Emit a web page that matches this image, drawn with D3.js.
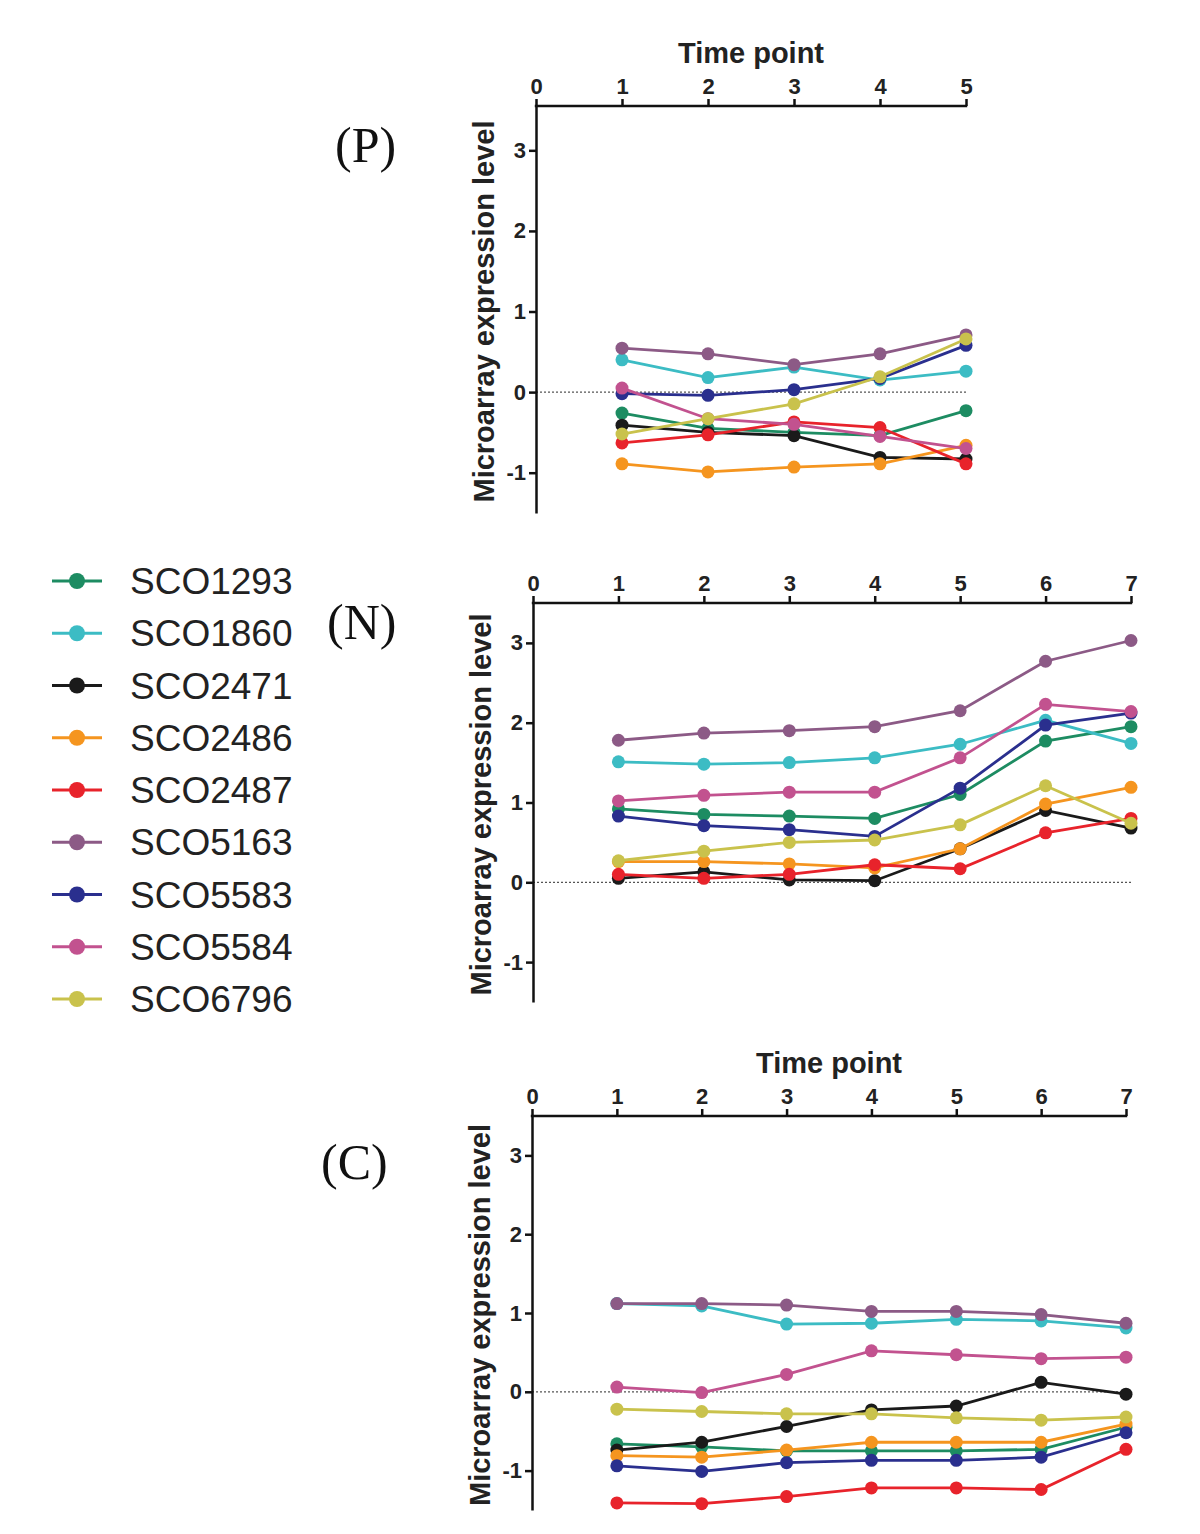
<!DOCTYPE html>
<html>
<head>
<meta charset="utf-8">
<script src="https://cdn.jsdelivr.net/npm/d3@7"></script>
<style>
  html, body { margin: 0; padding: 0; background: #fff; }
  svg { display: block; }
  .axis path, .axis line { stroke: #111; stroke-width: 2.5px; }
  .axis text { font-family: "Liberation Sans", Arial, sans-serif; font-weight: bold; font-size: 22px; fill: #222; }
</style>
</head>
<body>
<svg id="chart" width="1200" height="1534"></svg>
<script>
// ---------- data ----------
const genes = ["SCO1293","SCO1860","SCO2471","SCO2486","SCO2487","SCO5163","SCO5583","SCO5584","SCO6796"];
const colors = ["#1d8c62","#3cbcc4","#1a1a1a","#f5951f","#e8232b","#8c5a86","#2a2f8e","#c2528f","#c9c24c"];

const timeP = [1,2,3,4,5];
const timeN = [1,2,3,4,5,6,7];
const timeC = [1,2,3,4,5,6,7];

const yTicks = [-1,0,1,2,3];
const xTicksP = [0,1,2,3,4,5];
const xTicksN = [0,1,2,3,4,5,6,7];
const xTicksC = [0,1,2,3,4,5,6,7];

// Panel P values (per gene, in gene order)
const P_SCO1293 = [-0.26,-0.45,-0.50,-0.54,-0.23];
const P_SCO1860 = [0.40,0.18,0.31,0.15,0.26];
const P_SCO2471 = [-0.41,-0.50,-0.54,-0.81,-0.83];
const P_SCO2486 = [-0.89,-0.99,-0.93,-0.89,-0.66];
const P_SCO2487 = [-0.63,-0.53,-0.37,-0.44,-0.89];
const P_SCO5163 = [0.545,0.475,0.34,0.475,0.71];
const P_SCO5583 = [-0.02,-0.04,0.03,0.17,0.58];
const P_SCO5584 = [0.05,-0.33,-0.40,-0.55,-0.70];
const P_SCO6796 = [-0.52,-0.33,-0.145,0.19,0.66];

// Panel N values
const N_SCO1293 = [0.92,0.85,0.83,0.80,1.10,1.77,1.95];
const N_SCO1860 = [1.51,1.48,1.50,1.56,1.73,2.03,1.74];
const N_SCO2471 = [0.05,0.13,0.03,0.02,0.42,0.90,0.68];
const N_SCO2486 = [0.26,0.26,0.23,0.18,0.42,0.98,1.19];
const N_SCO2487 = [0.10,0.05,0.10,0.22,0.17,0.62,0.80];
const N_SCO5163 = [1.78,1.87,1.90,1.95,2.15,2.77,3.03];
const N_SCO5583 = [0.83,0.71,0.66,0.575,1.18,1.97,2.12];
const N_SCO5584 = [1.02,1.09,1.13,1.13,1.56,2.23,2.14];
const N_SCO6796 = [0.27,0.39,0.50,0.53,0.72,1.21,0.74];

// Panel C values
const C_SCO1293 = [-0.66,-0.70,-0.75,-0.75,-0.75,-0.73,-0.45];
const C_SCO1860 = [1.12,1.09,0.86,0.87,0.92,0.90,0.81];
const C_SCO2471 = [-0.74,-0.64,-0.44,-0.23,-0.18,0.12,-0.03];
const C_SCO2486 = [-0.81,-0.83,-0.74,-0.64,-0.64,-0.64,-0.41];
const C_SCO2487 = [-1.41,-1.42,-1.33,-1.22,-1.22,-1.24,-0.73];
const C_SCO5163 = [1.12,1.12,1.10,1.02,1.02,0.98,0.87];
const C_SCO5583 = [-0.94,-1.01,-0.90,-0.87,-0.87,-0.83,-0.52];
const C_SCO5584 = [0.06,-0.01,0.22,0.52,0.47,0.42,0.44];
const C_SCO6796 = [-0.22,-0.25,-0.28,-0.28,-0.33,-0.36,-0.32];

const seriesP = [P_SCO1293,P_SCO1860,P_SCO2471,P_SCO2486,P_SCO2487,P_SCO5163,P_SCO5583,P_SCO5584,P_SCO6796];
const seriesN = [N_SCO1293,N_SCO1860,N_SCO2471,N_SCO2486,N_SCO2487,N_SCO5163,N_SCO5583,N_SCO5584,N_SCO6796];
const seriesC = [C_SCO1293,C_SCO1860,C_SCO2471,C_SCO2486,C_SCO2487,C_SCO5163,C_SCO5583,C_SCO5584,C_SCO6796];

// ---------- drawing ----------
const svg = d3.select("#chart");
const fmt = d => String(d);

function panel(cfg) {
  const x = d3.scaleLinear().domain(cfg.xDomain).range([cfg.x0, cfg.x1]);
  const y = d3.scaleLinear().domain(cfg.yDomain).range([cfg.yBottom, cfg.yTop]);
  const g = svg.append("g");

  // zero reference line (dotted)
  g.append("line")
    .attr("x1", x(cfg.xDomain[0])).attr("x2", x(cfg.xDomain[1]))
    .attr("y1", y(0)).attr("y2", y(0))
    .attr("stroke", "#555").attr("stroke-width", 1.2)
    .attr("stroke-dasharray", "2,2");

  // x axis on top
  const xa = g.append("g").attr("class", "axis")
    .attr("transform", `translate(0,${cfg.yTop})`)
    .call(d3.axisTop(x).tickValues(cfg.xTicks).tickFormat(fmt).tickSize(7).tickSizeOuter(0).tickPadding(5));
  xa.select(".domain").attr("d", `M${cfg.x0 - 1.2},0H${cfg.x1 + 1.2}`);

  // y axis on left
  g.append("g").attr("class", "axis")
    .attr("transform", `translate(${cfg.x0},0)`)
    .call(d3.axisLeft(y).tickValues(yTicks).tickFormat(fmt).tickSize(7).tickSizeOuter(0).tickPadding(3));

  // y title
  g.append("text")
    .attr("transform", `translate(${cfg.x0 - 42},${(cfg.yTop + cfg.yBottom) / 2 + 2}) rotate(-90)`)
    .attr("text-anchor", "middle")
    .attr("font-family", "Liberation Sans, Arial, sans-serif")
    .attr("font-weight", "bold").attr("font-size", 29).attr("fill", "#222")
    .text("Microarray expression level");

  if (cfg.xTitle) {
    g.append("text")
      .attr("x", (cfg.x0 + cfg.x1) / 2).attr("y", cfg.yTop - 43)
      .attr("text-anchor", "middle")
      .attr("font-family", "Liberation Sans, Arial, sans-serif")
      .attr("font-weight", "bold").attr("font-size", 29).attr("fill", "#222")
      .text(cfg.xTitle);
  }

  // panel label
  g.append("text")
    .attr("x", cfg.labelX).attr("y", cfg.labelY)
    .attr("font-family", "Liberation Serif, Times New Roman, serif")
    .attr("font-size", 50).attr("fill", "#111")
    .text(cfg.label);

  const line = d3.line().x(d => x(d[0])).y(d => y(d[1]));
  cfg.series.forEach((vals, i) => {
    const pts = cfg.times.map((t, j) => [t, vals[j]]);
    g.append("path").datum(pts)
      .attr("fill", "none").attr("stroke", colors[i]).attr("stroke-width", 2.8)
      .attr("d", line);
    g.selectAll(null).data(pts).enter().append("circle")
      .attr("cx", d => x(d[0])).attr("cy", d => y(d[1])).attr("r", 6.5)
      .attr("fill", colors[i]);
  });
}

panel({ label: "(P)", labelX: 335, labelY: 162, xTitle: "Time point",
  xDomain: [0,5], xTicks: xTicksP, x0: 536, x1: 966,
  yDomain: [-1.5, 3.55], yTop: 106, yBottom: 513,
  times: timeP, series: seriesP });

panel({ label: "(N)", labelX: 327, labelY: 639, xTitle: null,
  xDomain: [0,7], xTicks: xTicksN, x0: 533, x1: 1131,
  yDomain: [-1.5, 3.5], yTop: 603, yBottom: 1002,
  times: timeN, series: seriesN });

panel({ label: "(C)", labelX: 321, labelY: 1179, xTitle: "Time point",
  xDomain: [0,7], xTicks: xTicksC, x0: 532, x1: 1126,
  yDomain: [-1.5, 3.5], yTop: 1116, yBottom: 1510,
  times: timeC, series: seriesC });

// legend
const ly = d3.scalePoint().domain(genes).range([581, 999]);
const leg = svg.append("g");
genes.forEach((gname, i) => {
  const yy = ly(gname);
  leg.append("line").attr("x1", 52).attr("x2", 102).attr("y1", yy).attr("y2", yy)
    .attr("stroke", colors[i]).attr("stroke-width", 3);
  leg.append("circle").attr("cx", 77).attr("cy", yy).attr("r", 8).attr("fill", colors[i]);
  leg.append("text").attr("x", 130).attr("y", yy + 13)
    .attr("font-family", "Liberation Sans, Arial, sans-serif")
    .attr("font-size", 37).attr("fill", "#222")
    .text(gname);
});
</script>
</body>
</html>
